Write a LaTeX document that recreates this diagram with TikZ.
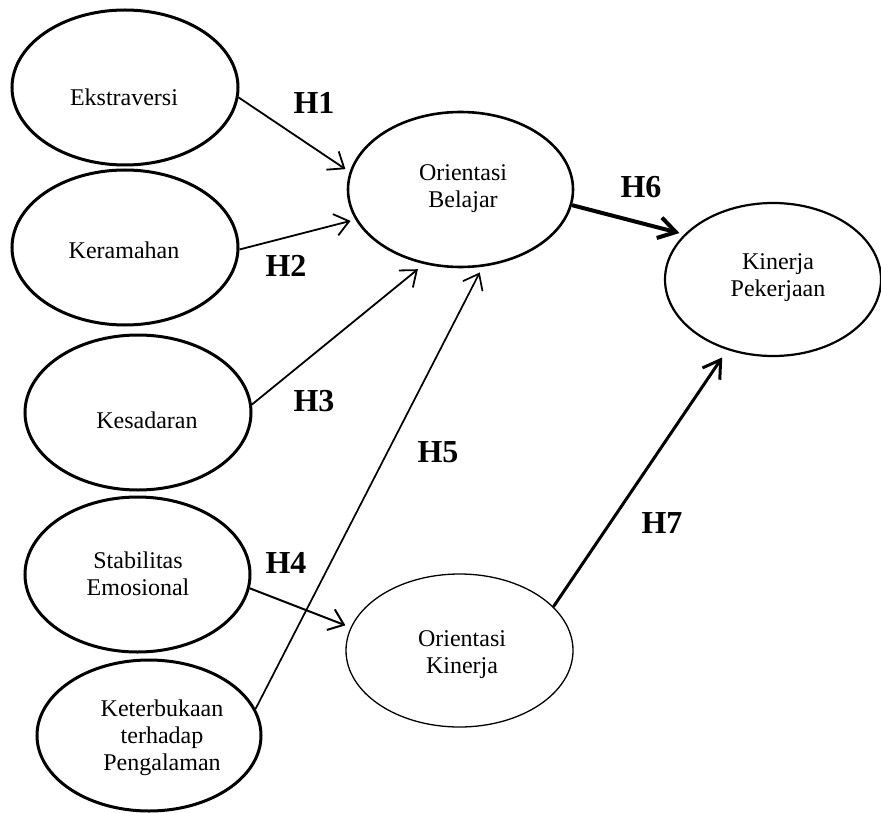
\documentclass[tikz,border=0pt]{standalone}
\usepackage{fontspec}
\setmainfont{Liberation Serif}
\usetikzlibrary{shapes.geometric,arrows.meta}
\tikzset{
  oval/.style={ellipse, draw, inner sep=0pt, line width=1.5pt},
  txt/.style={font=\fontsize{12}{13.5}\selectfont, align=center, inner sep=0pt},
  hyp/.style={font=\fontsize{16}{19}\selectfont\bfseries, inner sep=0pt},
  arr/.style={-{Straight Barb[length=7pt,width=11pt]}, line width=0.9pt, shorten >=2.5pt},
  arrbig/.style={-{Straight Barb[length=8.5pt,width=10.5pt]}, shorten >=2.5pt}
}
\begin{document}
\begin{tikzpicture}[x=0.5pt,y=-0.5pt]
\useasboundingbox (0,0) rectangle (881,812);
% ellipses
\node[oval, minimum width=113pt, minimum height=77.5pt] (e) at (125,87.5) {};
\node[oval, minimum width=113pt, minimum height=77.5pt] (k) at (125,247.5) {};
\node[oval, minimum width=113pt, minimum height=77.5pt] (kes) at (138,412.5) {};
\node[oval, minimum width=112.5pt, minimum height=77.5pt] (stab) at (137.5,574.5) {};
\node[oval, minimum width=112pt, minimum height=75.5pt] (ket) at (149,735.5) {};
\node[oval, line width=1.3pt, minimum width=112.5pt, minimum height=77.5pt] (ob) at (460.5,189.5) {};
\node[oval, line width=1.1pt, minimum width=108pt, minimum height=76.5pt] (kp) at (773,279.5) {};
\node[oval, line width=0.65pt, minimum width=113.5pt, minimum height=76.5pt] (ok) at (459.5,650.5) {};
% texts
\node[txt, anchor=base] (te) at (124,106) {Ekstraversi};
\node[txt, anchor=base] (tk) at (124,258) {Keramahan};
\node[txt, anchor=base] (tkes) at (147,428) {Kesadaran};
\node[txt] (tstab) at (138,574) {Stabilitas\\Emosional};
\node[txt] (tket) at (162,737.5) {Keterbukaan\\terhadap\\Pengalaman};
\node[txt] (tob) at (463,189) {Orientasi\\Belajar};
\node[txt] (tkp) at (778,278) {Kinerja\\Pekerjaan};
\node[txt] (tok) at (462,654.5) {Orientasi\\Kinerja};
% hypothesis labels
\node[hyp] (h1) at (314,103) {H1};
\node[hyp] (h2) at (286,266) {H2};
\node[hyp] (h3) at (314,401) {H3};
\node[hyp] (h4) at (286,563) {H4};
\node[hyp] (h5) at (438,452) {H5};
\node[hyp] (h6) at (641,187) {H6};
\node[hyp] (h7) at (662,523) {H7};
% arrows
\draw[arr] (e.-5.4) -- (ob.171.9);
\draw[arr] (k.-1.2) -- (ob.-164.3);
\draw[arr, shorten >=4pt] (kes.4.8) -- (ob.-116.7);
\draw[arr, line width=1pt, shorten >=2.8pt] (stab.-7) -- (ok.168.9);
\draw[arr, line width=0.85pt, shorten >=3.2pt] (ket.14.3) -- (ob.-74.1);
\draw[arrbig, line width=2pt] (ob.-8.9) -- (kp.153.4);
\draw[arrbig, line width=1.5pt, shorten >=4.5pt] (ok.25.4) -- (kp.-123.5);
\end{tikzpicture}
\end{document}
